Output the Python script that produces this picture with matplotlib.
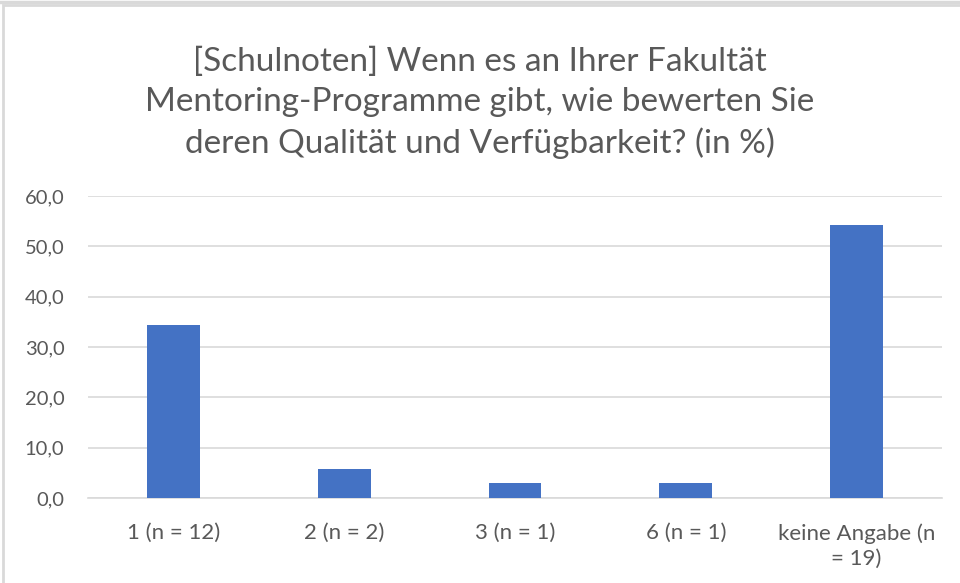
import matplotlib
matplotlib.use("Agg")
import matplotlib.pyplot as plt
from matplotlib.patches import Rectangle
from matplotlib.ticker import FuncFormatter

categories = ["1 (n = 12)", "2 (n = 2)", "3 (n = 1)", "6 (n = 1)", "keine Angabe (n\n= 19)"]
values = [34.3, 5.7, 2.9, 2.9, 54.3]
yticks = [0, 10, 20, 30, 40, 50, 60]
title = "[Schulnoten] Wenn es an Ihrer Fakultät\nMentoring-Programme gibt, wie bewerten Sie\nderen Qualität und Verfügbarkeit? (in %)"

plt.rcParams['font.family'] = ['Lato', 'DejaVu Sans']

fig = plt.figure(figsize=(9.6, 5.83), dpi=100)
fig.patch.set_facecolor("white")
# chart border
fig.add_artist(Rectangle((3/960, -0.01), 1.0, 1 - 5/583 + 0.01, transform=fig.transFigure,
                         fill=False, edgecolor="#d9d9d9", linewidth=2.0))
fig.add_artist(plt.Line2D([0, 1], [1 - 2/583, 1 - 2/583], transform=fig.transFigure,
                          color="#d9d9d9", linewidth=2.5))

ax = fig.add_axes([88/960, 1 - 498/583, (942 - 88)/960, (498 - 196)/583])
x = list(range(len(categories)))
ax.bar(x, values, width=0.31, color="#4472c4", zorder=3)
ax.set_xlim(-0.5, len(categories) - 0.5)
ax.set_ylim(0, 60)
ax.set_yticks(yticks)
ax.yaxis.set_major_formatter(FuncFormatter(lambda v, p: f"{v:.1f}".replace(".", ",")))
ax.set_xticks(x)
ax.set_xticklabels(categories, fontsize=16, color="#595959", linespacing=1.35)
ax.tick_params(axis="y", labelsize=14.5, labelcolor="#595959", length=0, pad=17)
ax.tick_params(axis="x", length=0, pad=18)
ax.grid(axis="y", color="#d9d9d9", linewidth=1.2, zorder=0)
for s in ["top", "right", "left"]:
    ax.spines[s].set_visible(False)
ax.spines["bottom"].set_color("#d9d9d9")
ax.spines["bottom"].set_linewidth(1.2)

fig.text(0.5, 1 - 103/583, title, ha="center", va="center", fontsize=24,
         color="#595959", linespacing=1.42)

fig.savefig("out.png", dpi=100)
